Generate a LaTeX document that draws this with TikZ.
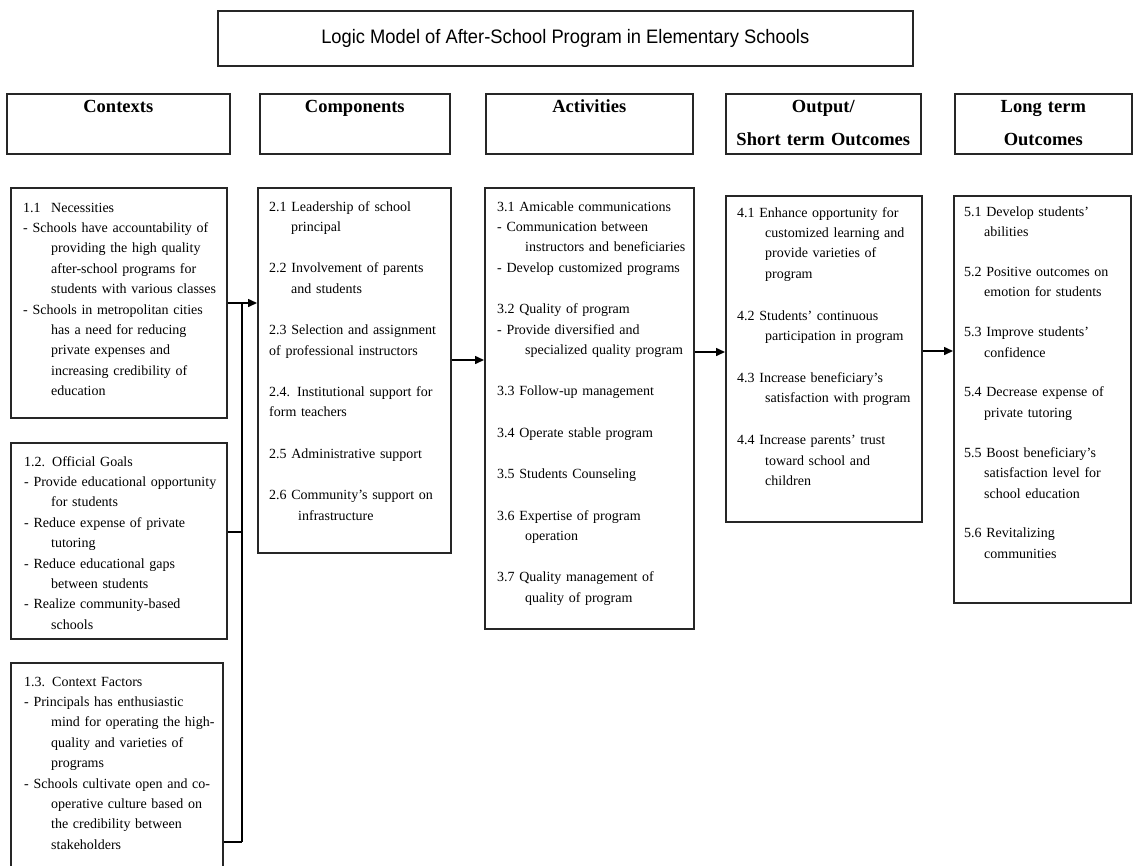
\documentclass[tikz,border=0pt]{standalone}
\usepackage{fontspec}
\setmainfont{Liberation Serif}
\newfontfamily\titlefont[FakeStretch=0.94]{Liberation Sans}
\usetikzlibrary{arrows.meta}
\newcommand{\hind}[1]{\hspace*{#1pt}}
\tikzset{
  box/.style={draw=black!85, line width=1.6pt, inner sep=0pt, anchor=north west},
  body/.style={anchor=base west, align=left, inner sep=0pt, text width=260pt,
               font=\fontsize{14}{20.4}\selectfont},
  head/.style={anchor=base, align=center, inner sep=0pt, text width=190pt,
               font=\fontsize{18.5}{33}\selectfont\bfseries},
  arr/.style={line width=1.5pt, -{Triangle[length=9pt,width=8pt]}},
  link/.style={line width=1.5pt},
}
\begin{document}
\begin{tikzpicture}[x=1pt,y=-1pt]
\useasboundingbox (0,0) rectangle (1135,865);

% title
\node[box, minimum width=695pt, minimum height=55pt] (title) at (217,10) {};
\node[inner sep=0pt, font=\titlefont\fontsize{19.5}{22}\selectfont] (titlet) at (title.center)
  {Logic Model of After-School Program in Elementary Schools};

% headers
\node[box, minimum width=223pt, minimum height=60pt] (hctx) at (6,93) {};
\node[box, minimum width=190pt, minimum height=60pt] (hcomp) at (259,93) {};
\node[box, minimum width=207pt, minimum height=60pt] (hact) at (485,93) {};
\node[box, minimum width=195pt, minimum height=60pt] (hout) at (725,93) {};
\node[box, minimum width=177pt, minimum height=60pt] (hlong) at (954,93) {};
\node[head] (hctxt) at ([yshift=-19pt]hctx.north) {Contexts};
\node[head] (hcompt) at ([yshift=-19pt]hcomp.north) {Components};
\node[head] (hactt) at ([yshift=-19pt]hact.north) {Activities};
\node[head] (houtt) at ([yshift=-19pt]hout.north) {Output/\\Short term Outcomes};
\node[head] (hlongt) at ([yshift=-19pt]hlong.north) {Long term\\Outcomes};

% content boxes
\node[box, minimum width=216pt, minimum height=230pt] (c11) at (10,187) {};
\node[box, minimum width=216pt, minimum height=196pt] (c12) at (10,442) {};
\node[box, minimum width=212pt, minimum height=222pt] (c13) at (10,662) {};
\node[box, minimum width=193pt, minimum height=365pt] (comp) at (257,187) {};
\node[box, minimum width=209pt, minimum height=441pt] (act) at (484,187) {};
\node[box, minimum width=196pt, minimum height=326pt] (out) at (725,195) {};
\node[box, minimum width=177pt, minimum height=407pt] (long) at (953,195) {};

\node[body] (c11t) at (23,212) {%
\makebox[28pt][l]{1.1}Necessities\\
- Schools have accountability of\\
\hind{28}providing the high quality\\
\hind{28}after-school programs for\\
\hind{28}students with various classes\\
- Schools in metropolitan cities\\
\hind{28}has a need for reducing\\
\hind{28}private expenses and\\
\hind{28}increasing credibility of\\
\hind{28}education};

\node[body] (c12t) at (24,466) {%
1.2. Official Goals\\
- Provide educational opportunity\\
\hind{27}for students\\
- Reduce expense of private\\
\hind{27}tutoring\\
- Reduce educational gaps\\
\hind{27}between students\\
- Realize community-based\\
\hind{27}schools};

\node[body] (c13t) at (24,686) {%
1.3. Context Factors\\
- Principals has enthusiastic\\
\hind{27}mind for operating the high-\\
\hind{27}quality and varieties of\\
\hind{27}programs\\
- Schools cultivate open and co-\\
\hind{27}operative culture based on\\
\hind{27}the credibility between\\
\hind{27}stakeholders};

\node[body] (compt) at (269,211) {%
2.1 Leadership of school\\
\hind{22}principal\\[21pt]
2.2 Involvement of parents\\
\hind{22}and students\\[21pt]
2.3 Selection and assignment\\
of professional instructors\\[21pt]
2.4. Institutional support for\\
form teachers\\[21pt]
2.5 Administrative support\\[21pt]
2.6 Community's support on\\
\hind{29}infrastructure};

\node[body] (actt) at (497,211) {%
3.1 Amicable communications\\
- Communication between\\
\hind{28}instructors and beneficiaries\\
- Develop customized programs\\[21pt]
3.2 Quality of program\\
- Provide diversified and\\
\hind{28}specialized quality program\\[21pt]
3.3 Follow-up management\\[21pt]
3.4 Operate stable program\\[21pt]
3.5 Students Counseling\\[21pt]
3.6 Expertise of program\\
\hind{28}operation\\[21pt]
3.7 Quality management of\\
\hind{28}quality of program};

\node[body] (outt) at (737,217) {%
4.1 Enhance opportunity for\\
\hind{28}customized learning and\\
\hind{28}provide varieties of\\
\hind{28}program\\[21.5pt]
4.2 Students' continuous\\
\hind{28}participation in program\\[21.5pt]
4.3 Increase beneficiary's\\
\hind{28}satisfaction with program\\[21.5pt]
4.4 Increase parents' trust\\
\hind{28}toward school and\\
\hind{28}children};

\node[body] (longt) at (964,216) {%
5.1 Develop students'\\
\hind{20}abilities\\[19.5pt]
5.2 Positive outcomes on\\
\hind{20}emotion for students\\[19.5pt]
5.3 Improve students'\\
\hind{20}confidence\\[19.5pt]
5.4 Decrease expense of\\
\hind{20}private tutoring\\[19.5pt]
5.5 Boost beneficiary's\\
\hind{20}satisfaction level for\\
\hind{20}school education\\[19.5pt]
5.6 Revitalizing\\
\hind{20}communities};

% connectors
\coordinate (j1) at (242,303);
\coordinate (j2) at (242,532);
\coordinate (j3) at (242,842);
\draw[arr] (c11.east |- j1) -- (comp.west |- j1);
\draw[link] (j1) -- (j3);
\draw[link] (c12.east |- j2) -- (j2);
\draw[link] (c13.east |- j3) -- (j3);
\coordinate (k1) at (467,360);
\draw[arr] (comp.east |- k1) -- (act.west |- k1);
\coordinate (k2) at (709,352);
\draw[arr] (act.east |- k2) -- (out.west |- k2);
\coordinate (k3) at (937,351);
\draw[arr] (out.east |- k3) -- (long.west |- k3);
\end{tikzpicture}
\end{document}
